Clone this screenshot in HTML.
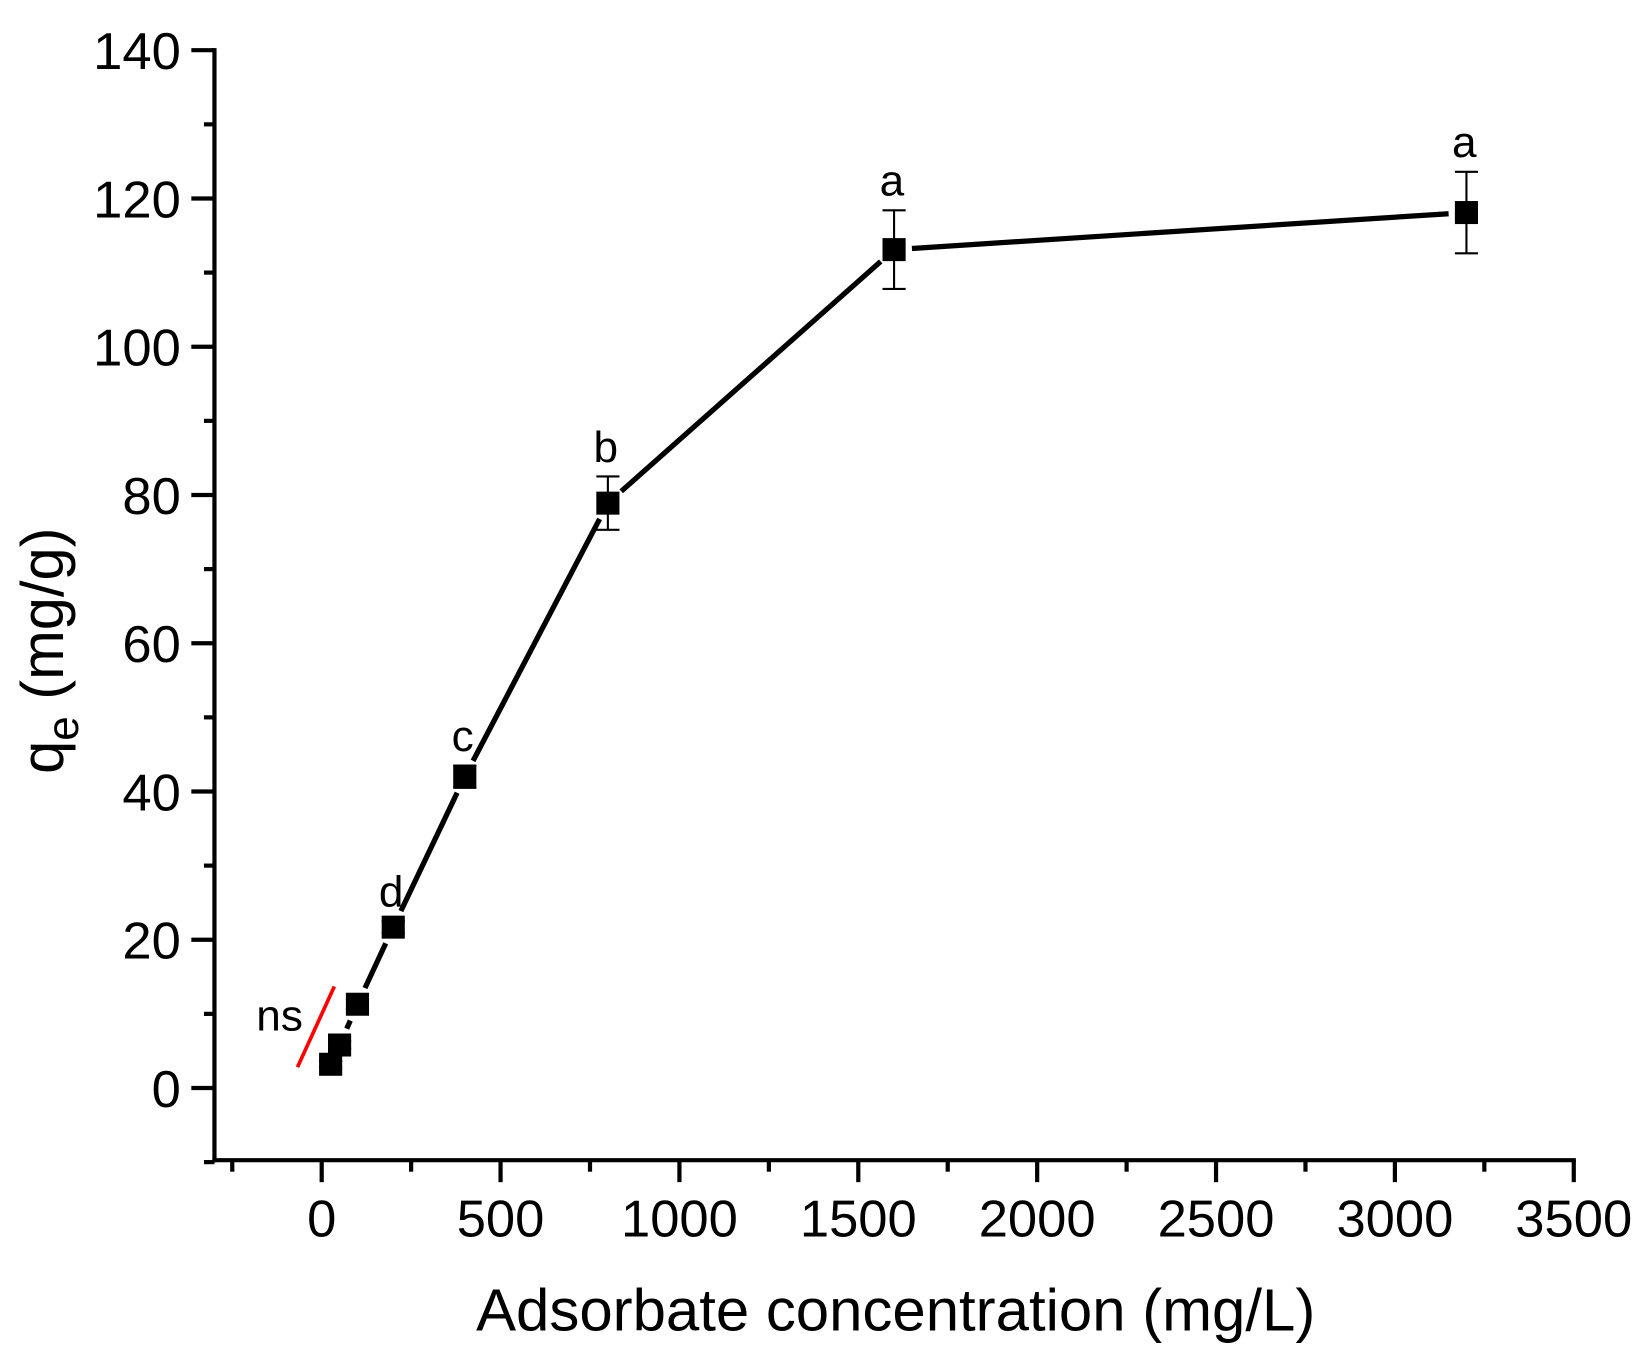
<!DOCTYPE html>
<html><head><meta charset="utf-8"><style>
html,body{margin:0;padding:0;background:#fff;}
svg{display:block;font-family:"Liberation Sans",Arial,sans-serif;}
</style></head><body>
<svg id="chart" width="1640" height="1360" viewBox="0 0 1560 1300" preserveAspectRatio="none" xmlns="http://www.w3.org/2000/svg">
<g id="axes"></g>
<g id="series"></g>
<text x="852" y="1272" font-size="57" text-anchor="middle">Adsorbate concentration (mg/L)</text>
<text transform="translate(60,622) rotate(-90)" font-size="57" text-anchor="middle">q<tspan font-size="42" dy="14">e</tspan><tspan dy="-14"> (mg/g)</tspan></text>
</svg>
<script>
const xVals = [25, 50, 100, 200, 400, 800, 1600, 3200];
const yVals = [3.2, 5.8, 11.3, 21.7, 42.0, 78.9, 113.1, 118.1];
const yErr = [0.4, 0.5, 0.6, 0.8, 1.5, 3.6, 5.3, 5.5];
const letters = ["", "", "", "d", "c", "b", "a", "a"];
const xTicks = [0, 500, 1000, 1500, 2000, 2500, 3000, 3500];
const yTicks = [0, 20, 40, 60, 80, 100, 120, 140];

const NS = "http://www.w3.org/2000/svg";
function X(v){ return 306 + v * (1497 - 306) / 3500; }
function Y(v){ return 1040 - v * (1040 - 48) / 140; }
function mk(tag, attrs, parent){
  const e = document.createElementNS(NS, tag);
  for (const k in attrs) e.setAttribute(k, attrs[k]);
  parent.appendChild(e); return e;
}
const axes = document.getElementById('axes');
const series = document.getElementById('series');

let yAxis = mk('line', {x1:204, y1:46, x2:204, y2:1111, stroke:'#000', 'stroke-width':4}, axes);


let xAxis = mk('line', {x1:202, y1:1109, x2:1499, y2:1109, stroke:'#000', 'stroke-width':4}, axes);



for (let v = -10; v <= 140; v += 10) {
  const major = v % 20 === 0;
  const t = mk('line', {x1: major ? 182 : 194, y1: Y(v), x2: 204, y2: Y(v), stroke:'#000', 'stroke-width':4}, axes);
  
  
}
yTicks.forEach(v => {
  const t = mk('text', {x:172, y:Y(v)+18, 'font-size':50, 'text-anchor':'end'}, axes);
  t.textContent = v;
  
  
});
for (let v = -250; v <= 3500; v += 250) {
  const major = v % 500 === 0;
  const t = mk('line', {x1: X(v), y1:1109, x2: X(v), y2: major ? 1130 : 1120, stroke:'#000', 'stroke-width':4}, axes);
  
  
}
xTicks.forEach(v => {
  const t = mk('text', {x:X(v), y:1182, 'font-size':50, 'text-anchor':'middle'}, axes);
  t.textContent = v;
  
  
});

for (let i = 0; i < xVals.length - 1; i++) {
  const x1 = X(xVals[i]), y1 = Y(yVals[i]), x2 = X(xVals[i+1]), y2 = Y(yVals[i+1]);
  const d = Math.hypot(x2-x1, y2-y1);
  const g = 17;
  if (d <= 2*g) continue;
  const ux = (x2-x1)/d, uy = (y2-y1)/d;
  const s = mk('line', {x1:x1+ux*g, y1:y1+uy*g, x2:x2-ux*g, y2:y2-uy*g, stroke:'#000', 'stroke-width':5}, series);
  
  
}
xVals.forEach((xv, i) => {
  const cx = X(xv), cy = Y(yVals[i]);
  const top = Y(yVals[i] + yErr[i]), bot = Y(yVals[i] - yErr[i]);
  const eb = mk('path', {d:`M${cx},${top}V${bot}M${cx-11},${top}H${cx+11}M${cx-11},${bot}H${cx+11}`, stroke:'#000', 'stroke-width':2, fill:'none'}, series);
  
  
  const m = mk('rect', {x:cx-11, y:cy-11, width:22, height:22, fill:'#000'}, series);
  
  
  if (letters[i]) {
    const t = mk('text', {x:cx-2, y:top-14, 'font-size':42, 'text-anchor':'middle'}, series);
    t.textContent = letters[i];
    
    
  }
});
const ns = mk('text', {x:266, y:985, 'font-size':42, 'text-anchor':'middle'}, series);
ns.textContent = 'ns';


const red = mk('line', {x1:283, y1:1020, x2:318, y2:943, stroke:'#ff0000', 'stroke-width':3.5}, series);


</script>
</body></html>
